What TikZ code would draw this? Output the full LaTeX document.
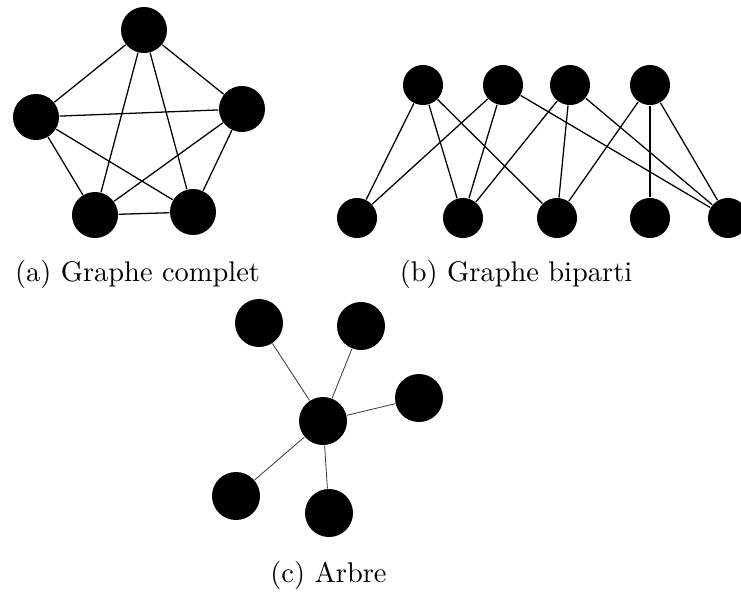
\documentclass[tikz,border=0pt]{standalone}
\begin{document}
\begin{tikzpicture}[x=0.352pt,y=-0.352pt,
  vtx/.style={circle,fill=black,draw=none,inner sep=0pt,minimum size=16.2pt},
  bvtx/.style={circle,fill=black,draw=none,inner sep=0pt,minimum size=14.1pt},
  tvtx/.style={circle,fill=black,draw=none,inner sep=0pt,minimum size=16.9pt},
  gedge/.style={line width=0.45pt},
  tedge/.style={line width=0.3pt,black!75},
  captext/.style={anchor=base,font=\fontsize{10pt}{12pt}\selectfont}]
\useasboundingbox (0,0) rectangle (741,592);
% (a) complete graph
\node[vtx] (a1) at (144,30) {};
\node[vtx] (a2) at (36,117) {};
\node[vtx] (a3) at (242,109) {};
\node[vtx] (a4) at (95,215) {};
\node[vtx] (a5) at (193,212) {};
\foreach \u/\v in {a1/a2,a1/a3,a1/a4,a1/a5,a2/a3,a2/a4,a2/a5,a3/a4,a3/a5,a4/a5}
  \draw[gedge] (\u) -- (\v);
\node[captext] (capa) at (137.5,281) {(a) Graphe complet};
% (b) bipartite graph
\node[bvtx] (t1) at (423,85) {};
\node[bvtx] (t2) at (503,85) {};
\node[bvtx] (t3) at (570,85) {};
\node[bvtx] (t4) at (650,85) {};
\node[bvtx] (b1) at (357,218) {};
\node[bvtx] (b2) at (463,218) {};
\node[bvtx] (b3) at (557,218) {};
\node[bvtx] (b4) at (650,218) {};
\node[bvtx] (b5) at (728,218) {};
\foreach \u/\v in {t1/b1,t1/b2,t1/b3,t2/b1,t2/b2,t2/b5,t3/b2,t3/b3,t3/b5,t4/b3,t4/b4,t4/b5}
  \draw[gedge] (\u) -- (\v);
\node[captext] (capb) at (516,281) {(b) Graphe biparti};
% (c) tree
\node[tvtx] (c0) at (323,421) {};
\node[tvtx] (c1) at (259,323) {};
\node[tvtx] (c2) at (361,326) {};
\node[tvtx] (c3) at (419,398) {};
\node[tvtx] (c4) at (236,496) {};
\node[tvtx] (c5) at (329,513) {};
\foreach \v in {c1,c2,c3,c4,c5}
  \draw[tedge] (c0) -- (\v);
\node[captext] (capc) at (328.5,582) {(c) Arbre};
\end{tikzpicture}
\end{document}
